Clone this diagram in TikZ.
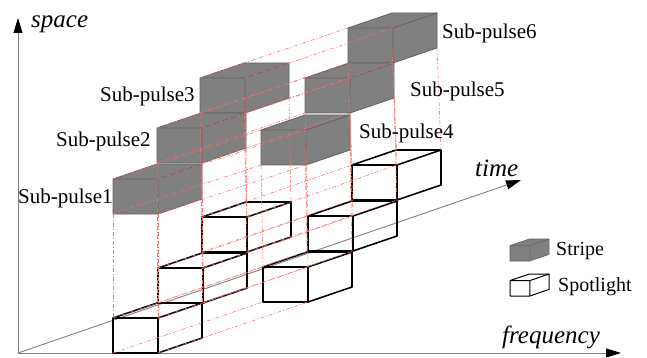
\documentclass[tikz,border=0pt]{standalone}
\usepackage{fontspec}
\setmainfont{Liberation Serif}
\usetikzlibrary{arrows.meta}

\definecolor{stripefill}{RGB}{128,128,128}
\definecolor{stripeedge}{RGB}{98,98,98}
\definecolor{guide}{RGB}{250,110,110}
\definecolor{axisgray}{RGB}{128,128,128}

\tikzset{
  % a cuboid seen from the front-left: front face, top face and right face
  pics/cuboid/.style={code={
    \coordinate (-fbl) at (0,0);
    \coordinate (-fbr) at (45,0);
    \coordinate (-ftl) at (0,-35);
    \coordinate (-ftr) at (45,-35);
    \coordinate (-bbl) at (44,-15);
    \coordinate (-bbr) at (89,-15);
    \coordinate (-btl) at (44,-50);
    \coordinate (-btr) at (89,-50);
    \path[pic actions] (-fbl) -- (-fbr) -- (-bbr) -- (-btr) -- (-btl) -- (-ftl) -- cycle;
    \path[pic actions, fill=none] (-ftl) -- (-ftr) -- (-btr) (-ftr) -- (-fbr);
  }},
  stripecube/.style={draw=stripeedge, fill=stripefill, line width=0.8pt, line join=round},
  spotcube/.style={draw=black, line width=1.6pt, line join=round},
  guideline/.style={draw=guide, line width=0.55pt, dash pattern=on 4pt off 2pt on 1pt off 2pt},
  axisline/.style={draw=axisgray, line width=0.9pt,
    -{Triangle[length=15pt,width=9pt,color=black]}},
  pulsetext/.style={inner sep=0pt, anchor=base west, font=\fontsize{21}{25}\selectfont},
  axistext/.style={inner sep=0pt, anchor=base west, font=\fontsize{25}{30}\selectfont\itshape},
}

\begin{document}
\begin{tikzpicture}[x=1pt, y=-1pt]
\useasboundingbox (0,0) rectangle (647,358);

% axes
\coordinate (O) at (18,353);
\coordinate (spacetip) at (18,18);
\coordinate (freqtip) at (621,353);
\coordinate (timetip) at (521,180);
\draw[axisline] (O) -- (spacetip);
\draw[axisline] (O) -- (freqtip);
\draw[axisline] (O) -- (timetip);

% stripe sub-pulses (far ones first)
\pic[stripecube] (t6) at (348,63) {cuboid};
\pic[stripecube] (t5) at (305,113) {cuboid};
\pic[stripecube] (t4) at (261,165) {cuboid};
\pic[stripecube] (t3) at (200,113) {cuboid};
\pic[stripecube] (t2) at (157,163) {cuboid};
\pic[stripecube] (t1) at (113,214) {cuboid};

% spotlight sub-pulses
\pic[spotcube] (s6) at (352,200) {cuboid};
\pic[spotcube] (s5) at (308,251) {cuboid};
\pic[spotcube] (s4) at (263,302) {cuboid};
\pic[spotcube] (s3) at (202,252) {cuboid};
\pic[spotcube] (s2) at (158,303) {cuboid};
\pic[spotcube] (s1) at (113,353) {cuboid};

% projection guides: stripe corners down to spotlight corners
\foreach \k in {1,...,6}
  \foreach \c/\d in {fbl/ftl, fbr/ftr, bbl/btl, bbr/btr}
    \draw[guideline] (t\k-\c) -- (s\k-\d);

% guides along the time direction between matching sub-pulses
\foreach \k/\m in {1/4, 2/5, 3/6}
  \foreach \c in {fbl, fbr, ftl, ftr} {
    \draw[guideline] (t\k-\c) -- (t\m-\c);
    \draw[guideline] (s\k-\c) -- (s\m-\c);
  }

% legend
\pic[stripecube, scale=0.44, line width=0.6pt] (legstripe) at (510,261) {cuboid};
\pic[spotcube, scale=0.44, line width=1pt] (legspot) at (510,296) {cuboid};
\node[pulsetext, font=\fontsize{20}{24}\selectfont] (lstripe) at (556,255) {Stripe};
\node[pulsetext, font=\fontsize{20}{24}\selectfont] (lspot) at (558,291) {Spotlight};

% labels
\node[axistext] (lspace) at (31,28) {space};
\node[axistext] (ltime) at (475,176) {time};
\node[axistext] (lfreq) at (502,343) {frequency};
\node[pulsetext] (p1) at (18,203) {Sub-pulse1};
\node[pulsetext] (p2) at (56,147) {Sub-pulse2};
\node[pulsetext] (p3) at (100,102) {Sub-pulse3};
\node[pulsetext] (p4) at (359,139) {Sub-pulse4};
\node[pulsetext] (p5) at (410,97) {Sub-pulse5};
\node[pulsetext] (p6) at (442,39) {Sub-pulse6};
\end{tikzpicture}
\end{document}
